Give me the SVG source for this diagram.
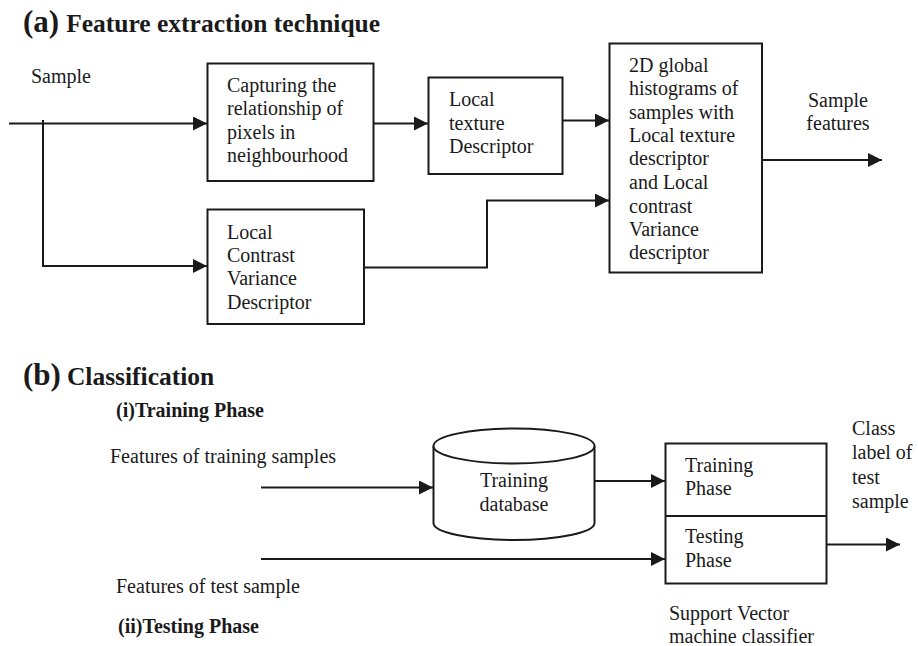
<svg xmlns="http://www.w3.org/2000/svg" width="918" height="646" viewBox="0 0 918 646">
<defs>
<marker id="ah" markerUnits="userSpaceOnUse" markerWidth="15" markerHeight="14" refX="14" refY="7" orient="auto">
<path d="M0,0 L14,7 L0,14 Z" fill="#1a1a1a"/>
</marker>
<style>
text{font-family:"Liberation Serif","Times New Roman",serif;fill:#1a1a1a;font-size:20px}
.b{font-weight:bold}
.box{fill:#fff;stroke:#1a1a1a;stroke-width:2}
.ln{fill:none;stroke:#1a1a1a;stroke-width:2}
.ar{fill:none;stroke:#1a1a1a;stroke-width:2;marker-end:url(#ah)}
</style>
</defs>
<rect width="918" height="646" fill="#fff"/>

<g id="titles">
<text x="23" y="32" class="b"><tspan font-size="31">(a)</tspan><tspan font-size="25.5" dx="7">Feature extraction technique</tspan></text>
<text x="23" y="385" class="b"><tspan font-size="31">(b)</tspan><tspan font-size="25.5" dx="6">Classification</tspan></text>
<text x="116" y="417" class="b" font-size="19">(i)Training Phase</text>
<text x="118" y="633" class="b" font-size="19">(ii)Testing Phase</text>
</g>

<g id="connectors">
<line class="ar" x1="9" y1="123.5" x2="207" y2="123.5"/>
<polyline class="ar" points="43,120 43,266 207,266"/>
<line class="ar" x1="373" y1="123.5" x2="428" y2="123.5"/>
<line class="ar" x1="563" y1="120.5" x2="609" y2="120.5"/>
<polyline class="ar" points="364,267.5 487,267.5 487,200.5 609,200.5"/>
<line class="ar" x1="762" y1="160" x2="882" y2="160"/>
<line class="ar" x1="261" y1="487.5" x2="433" y2="487.5"/>
<line class="ar" x1="261" y1="559" x2="665" y2="559"/>
<line class="ar" x1="594" y1="481" x2="665" y2="481"/>
<line class="ar" x1="827" y1="544.5" x2="900" y2="544.5"/>
</g>

<g id="sample-label"><text x="31" y="83">Sample</text></g>

<g id="capturing">
<rect class="box" x="207.5" y="63.5" width="166" height="117.5"/>
<text x="227" y="92">Capturing the</text>
<text x="227" y="115">relationship of</text>
<text x="227" y="138.5">pixels in</text>
<text x="227" y="162">neighbourhood</text>
</g>

<g id="local-texture">
<rect class="box" x="428.5" y="77.5" width="134" height="96.5"/>
<text x="449" y="106">Local</text>
<text x="449" y="130">texture</text>
<text x="449" y="153">Descriptor</text>
</g>

<g id="local-contrast">
<rect class="box" x="207.5" y="209.5" width="156.5" height="114.5"/>
<text x="227" y="238.5">Local</text>
<text x="227" y="262">Contrast</text>
<text x="227" y="285">Variance</text>
<text x="227" y="308.5">Descriptor</text>
</g>

<g id="histograms">
<rect class="box" x="609.5" y="43.5" width="152.5" height="229"/>
<text x="629" y="72">2D global</text>
<text x="629" y="95">histograms of</text>
<text x="629" y="118.5">samples with</text>
<text x="629" y="142">Local texture</text>
<text x="629" y="165">descriptor</text>
<text x="629" y="189">and Local</text>
<text x="629" y="212.5">contrast</text>
<text x="629" y="236">Variance</text>
<text x="629" y="259">descriptor</text>
</g>

<g id="sample-features">
<text x="838" y="107" text-anchor="middle">Sample</text>
<text x="838" y="130" text-anchor="middle">features</text>
</g>

<g id="train-label"><text x="110" y="463">Features of training samples</text></g>
<g id="test-label"><text x="116" y="593">Features of test sample</text></g>

<g id="training-database">
<path class="box" d="M433.5,446 L433.5,523 A80.5,17 0 0 0 594.5,523 L594.5,446"/>
<ellipse class="box" cx="514" cy="446" rx="80.5" ry="17.5"/>
<text x="514" y="487" text-anchor="middle">Training</text>
<text x="514" y="511" text-anchor="middle">database</text>
</g>

<g id="svm">
<rect class="box" x="665.5" y="443.5" width="161" height="140"/>
<line class="ln" x1="665.5" y1="516" x2="826.5" y2="516"/>
<text x="685" y="472">Training</text>
<text x="685" y="495">Phase</text>
<text x="685" y="543">Testing</text>
<text x="685" y="567">Phase</text>
<text x="669" y="620">Support Vector</text>
<text x="669" y="642.5">machine classifier</text>
</g>

<g id="class-label">
<text x="852" y="435">Class</text>
<text x="852" y="459">label of</text>
<text x="852" y="484">test</text>
<text x="852" y="508">sample</text>
</g>
</svg>
